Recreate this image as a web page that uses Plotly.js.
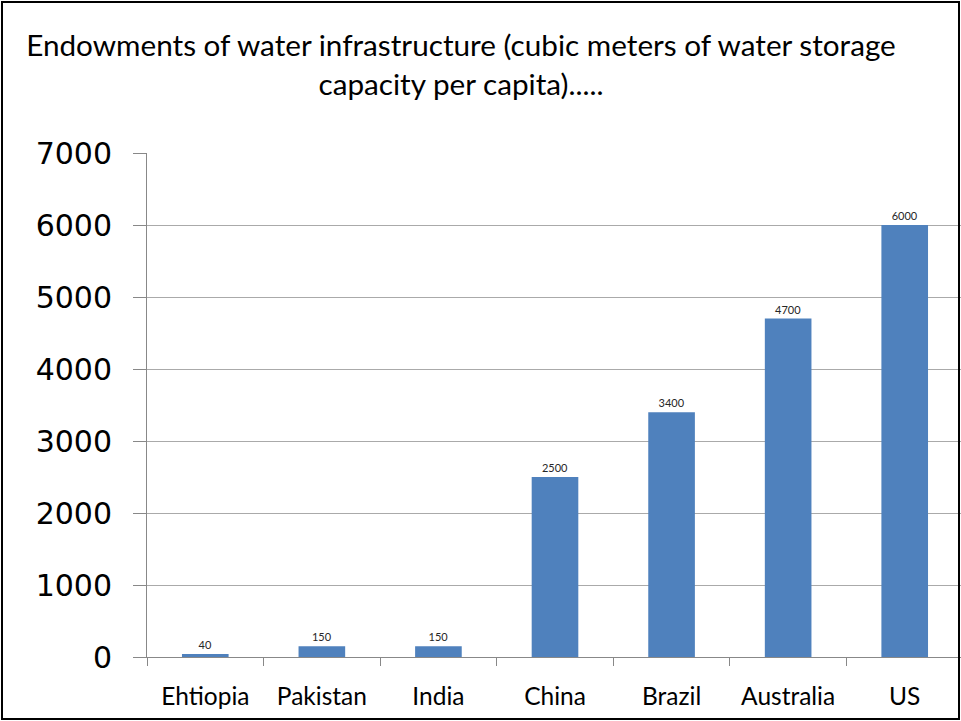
<!DOCTYPE html>
<html>
<head>
<meta charset="utf-8">
<script src="https://cdn.plot.ly/plotly-3.0.1.min.js"></script>
<style>
html,body{margin:0;padding:0;background:#fff;}
#wrap{position:relative;width:961px;height:721px;overflow:hidden;background:#fff;}
#chart{position:absolute;left:0;top:0;width:975px;height:721px;}
#frame{position:absolute;left:1px;top:1px;width:955px;height:715px;border:2px solid #000;pointer-events:none;}
</style>
</head>
<body>
<div id="wrap"><div id="chart"></div><div id="frame"></div></div>
<script>
var countries = ["Ehtiopia","Pakistan","India","China","Brazil","Australia","US"];
var storage = [40,150,150,2500,3400,4700,6000];
var titleText = "Endowments of water infrastructure (cubic meters of water storage<br>capacity per capita).....";

var trace = {
  type: "bar",
  x: countries,
  y: storage,
  text: storage.map(String),
  textposition: "outside",
  textfont: {family: "Lato, sans-serif", size: 11, color: "#262626"},
  cliponaxis: false,
  marker: {color: "#4F81BD"},
  hoverinfo: "x+y"
};

var layout = {
  width: 975, height: 721,
  margin: {l: 147, r: 12, t: 153, b: 64},
  paper_bgcolor: "#fff", plot_bgcolor: "#fff",
  bargap: 0.6,
  showlegend: false,
  title: {
    text: titleText,
    font: {family: "Lato, sans-serif", size: 29.7, color: "#000"},
    x: 461/975, xanchor: "center", xref: "container",
    y: 1 - 56/721, yanchor: "top", yref: "container"
  },
  xaxis: {
    type: "category",
    tickson: "boundaries",
    ticks: "outside", ticklen: 8, tickcolor: "#888", tickwidth: 1,
    showline: true, linecolor: "#888", linewidth: 1,
    showgrid: false,
    tickfont: {family: "Lato, sans-serif", size: 24.5, color: "#000"},
    ticklabelstandoff: 18
  },
  yaxis: {
    range: [0, 7000], dtick: 1000, tick0: 0,
    ticks: "outside", ticklen: 13, tickcolor: "#888", tickwidth: 1,
    showline: true, linecolor: "#888", linewidth: 1,
    showgrid: true, gridcolor: "#aaa", gridwidth: 1,
    zeroline: false,
    tickfont: {family: "DejaVu Sans, sans-serif", size: 30, color: "#000"},
    ticklabelstandoff: 15
  }
};

Plotly.newPlot("chart", [trace], layout, {displayModeBar: false, staticPlot: true});
</script>
</body>
</html>
